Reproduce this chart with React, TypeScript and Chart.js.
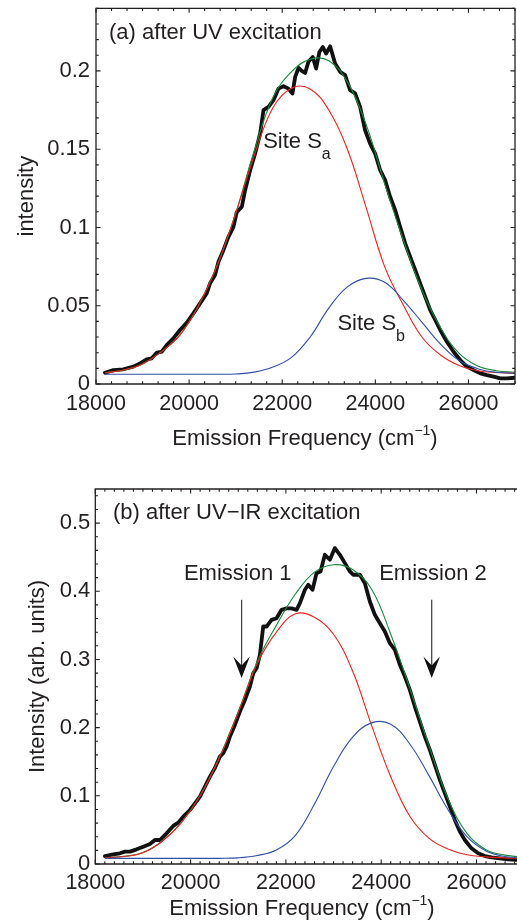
import React, { useEffect, useRef } from "react";
import { Chart, registerables } from "chart.js";

Chart.register(...registerables);

const FONT = '"Liberation Sans", Arial, Helvetica, sans-serif';
const INK = "#231f20";
const DATA_COLOR = "#111111";
const RED = "#e8231e";
const BLUE = "#2f4fa6";
const GREEN = "#178a3c";

// ---------------- Panel (a): after UV excitation ----------------
const aDataFreq = [
  18193, 18372, 18587, 18802, 18946, 19089, 19196, 19304, 19411, 19519,
  19662, 19805, 19948, 20092, 20235, 20378, 20450, 20557, 20630, 20737,
  20845, 20952, 21024, 21132, 21203, 21311, 21418, 21526, 21597, 21705,
  21812, 21920, 22027, 22135, 22220, 22278, 22350, 22420, 22491, 22563,
  22656, 22728, 22799, 22871, 22943, 23029, 23136, 23244, 23351, 23458,
  23566, 23673, 23781, 23888, 23996, 24103, 24211, 24318, 24426, 24533,
  24641, 24748, 24856, 24963, 25071, 25179, 25286, 25394, 25537, 25680,
  25824, 25967, 26110, 26254, 26397, 26540, 26683, 26827, 27000,
];
const aDataIntensity = [
  0.0072, 0.0089, 0.0094, 0.0111, 0.0132, 0.0157, 0.0164, 0.02, 0.0206, 0.0249,
  0.0291, 0.0345, 0.0391, 0.0451, 0.0515, 0.0579, 0.0643, 0.0696, 0.0781, 0.0855,
  0.094, 0.1004, 0.1098, 0.1132, 0.1238, 0.1366, 0.1472, 0.16, 0.1749, 0.177,
  0.1813, 0.1887, 0.1902, 0.1887, 0.1856, 0.1962, 0.202, 0.2, 0.1987, 0.2058,
  0.2089, 0.2015, 0.2121, 0.2153, 0.2111, 0.2157, 0.2047, 0.1994, 0.1973, 0.1877,
  0.1856, 0.177, 0.1621, 0.1536, 0.1472, 0.1366, 0.1302, 0.1196, 0.1111, 0.1004,
  0.0898, 0.0813, 0.0728, 0.0643, 0.0558, 0.0472, 0.0409, 0.0345, 0.027, 0.0206,
  0.0153, 0.0111, 0.0089, 0.0068, 0.0057, 0.0047, 0.0036, 0.0036, 0.004,
];
const aFitFreq = [
  18200, 18600, 19000, 19400, 19800, 20200, 20600, 21000, 21400, 21800, 22200, 22600,
  23000, 23400, 23800, 24200, 24600, 25000, 25400, 25800, 26200, 26600, 27000,
];
const aSiteA = [
  0.0072, 0.009, 0.0128, 0.0205, 0.0312, 0.05, 0.0755, 0.109, 0.146, 0.1765, 0.189, 0.1885,
  0.175, 0.15, 0.113, 0.075, 0.0505, 0.03, 0.0185, 0.0118, 0.0085, 0.0073, 0.0068,
];
const aSiteB = [
  0.0062, 0.0062, 0.0062, 0.0062, 0.0062, 0.0062, 0.0062, 0.0064, 0.0076, 0.0108, 0.017, 0.03,
  0.0485, 0.062, 0.0675, 0.065, 0.0535, 0.0395, 0.0255, 0.015, 0.0098, 0.0075, 0.0068,
];
const aFitTotal = [
  0.0072, 0.009, 0.0128, 0.0205, 0.0312, 0.05, 0.0755, 0.109, 0.149, 0.183, 0.1995, 0.2075,
  0.2065, 0.193, 0.166, 0.128, 0.092, 0.06, 0.036, 0.0195, 0.0115, 0.0085, 0.0075,
];
const aXTicks = [18000, 20000, 22000, 24000, 26000];
const aXTickLabels = ["18000", "20000", "22000", "24000", "26000"];
const aYTicks = [0, 0.05, 0.1, 0.15, 0.2];
const aYTickLabels = ["0", "0.05", "0.1", "0.15", "0.2"];

// ---------------- Panel (b): after UV-IR excitation ----------------
const bDataFreq = [
  18203, 18378, 18517, 18622, 18727, 18867, 19007, 19147, 19252, 19357,
  19497, 19636, 19741, 19846, 19986, 20091, 20196, 20301, 20406, 20510,
  20615, 20685, 20755, 20825, 20930, 21035, 21140, 21245, 21315, 21385,
  21455, 21524, 21594, 21699, 21804, 21909, 22014, 22119, 22224,
  22294, 22399, 22469, 22559, 22643, 22727, 22818, 22923, 23028, 23133,
  23238, 23343, 23413, 23552, 23657, 23762, 23867, 23972, 24077, 24182,
  24287, 24392, 24497, 24601, 24706, 24811, 24916, 25021, 25126, 25231,
  25336, 25441, 25545, 25650, 25755, 25895, 26035, 26175, 26315, 26490,
  26664, 26846,
];
const bDataIntensity = [
  0.0117, 0.0142, 0.0157, 0.0181, 0.0181, 0.0215, 0.0254, 0.0294, 0.0352, 0.0352,
  0.045, 0.0558, 0.0607, 0.0695, 0.0792, 0.089, 0.0988, 0.1135, 0.1282, 0.1409,
  0.1575, 0.1624, 0.1722, 0.1869, 0.204, 0.2236, 0.2407, 0.2603, 0.2798, 0.2872,
  0.3068, 0.3483, 0.3483, 0.3581, 0.3605, 0.3728, 0.3748, 0.3748, 0.3728,
  0.3826, 0.4022, 0.4095, 0.4022, 0.4266, 0.4291, 0.4535, 0.4462, 0.4633, 0.4535,
  0.4413, 0.4291, 0.4242, 0.4242, 0.4119, 0.385, 0.3655, 0.3532, 0.341, 0.3239,
  0.3141, 0.2921, 0.275, 0.2554, 0.2309, 0.2089, 0.1869, 0.1673, 0.1453, 0.1233,
  0.1037, 0.0841, 0.0646, 0.0475, 0.0352, 0.023, 0.0157, 0.0117, 0.0098, 0.0083,
  0.0068, 0.0059,
];
const bFitFreq = [
  18200, 18600, 19000, 19400, 19800, 20200, 20600, 21000, 21400, 21800, 22200, 22600,
  23000, 23400, 23800, 24200, 24600, 25000, 25400, 25800, 26200, 26600, 27000,
];
const bEmission1 = [
  0.0092, 0.011, 0.0165, 0.033, 0.06, 0.1, 0.155, 0.222, 0.294, 0.34, 0.367, 0.362,
  0.337, 0.283, 0.203, 0.128, 0.07, 0.038, 0.022, 0.0135, 0.0105, 0.009, 0.008,
];
const bEmission2 = [
  0.0083, 0.0083, 0.0083, 0.0083, 0.0083, 0.0083, 0.0083, 0.009, 0.0125, 0.0205, 0.042, 0.088,
  0.143, 0.186, 0.207, 0.205, 0.176, 0.13, 0.08, 0.04, 0.019, 0.011, 0.0085,
];
const bFitTotal = [
  0.0095, 0.0112, 0.0168, 0.0333, 0.0605, 0.1005, 0.156, 0.2235, 0.297, 0.35, 0.396, 0.428,
  0.439, 0.432, 0.403, 0.337, 0.258, 0.174, 0.096, 0.045, 0.021, 0.013, 0.01,
];
const bXTicks = [18000, 20000, 22000, 24000, 26000];
const bXTickLabels = ["18000", "20000", "22000", "24000", "26000"];
const bYTicks = [0, 0.1, 0.2, 0.3, 0.4, 0.5];
const bYTickLabels = ["0", "0.1", "0.2", "0.3", "0.4", "0.5"];

// ---------------- types & helpers ----------------
type Part = { text: string; size: number; dy: number };
type Label = { x: number; y: number; parts: Part[] };
type Arrow = { x: number; yTop: number; yTip: number };

interface PanelSpec {
  width: number;
  height: number;
  xMin: number;
  xMax: number;
  yMin: number;
  yMax: number;
  xTicks: number[];
  xTickLabels: string[];
  yTicks: number[];
  yTickLabels: string[];
  xMinorStep: number;
  yMinorStep: number;
  padTop: number;
  padRight: number;
  yAxisWidth: number;
  xAxisHeight: number;
  xTickPad: number;
  yTickPad: number;
  rightBorder: boolean;
  yTitle: string;
  yTitleX: number;
  xTitleCenter: number;
  xTitleBaseline: number;
  labels: Label[];
  arrows: Arrow[];
  dataX: number[];
  dataY: number[];
  fitX: number[];
  comp1: number[];
  comp2: number[];
  total: number[];
}

function drawParts(ctx: CanvasRenderingContext2D, parts: Part[], x: number, y: number, align: "left" | "center") {
  const widths = parts.map((p) => {
    ctx.font = `${p.size}px ${FONT}`;
    return ctx.measureText(p.text).width;
  });
  const total = widths.reduce((s, w) => s + w, 0);
  let cx = align === "center" ? x - total / 2 : x;
  ctx.textAlign = "left";
  ctx.textBaseline = "alphabetic";
  parts.forEach((p, i) => {
    ctx.font = `${p.size}px ${FONT}`;
    ctx.fillText(p.text, cx, y + p.dy);
    cx += widths[i];
  });
}

function framePlugin(p: PanelSpec) {
  return {
    id: "frameAndText",
    afterDatasetsDraw(chart: any) {
      const ctx: CanvasRenderingContext2D = chart.ctx;
      const a = chart.chartArea;
      const xs = chart.scales.x;
      const ys = chart.scales.y;
      const MAJ = 4.5;
      const MIN = 2.8;
      ctx.save();
      ctx.strokeStyle = INK;
      ctx.lineWidth = 1.1;
      // ticks
      ctx.beginPath();
      const isMajor = (v: number, list: number[], step: number) =>
        list.some((m) => Math.abs(m - v) < step * 0.01);
      const xTick = (v: number, len: number) => {
        const px = xs.getPixelForValue(v);
        if (px < a.left - 0.5 || px > a.right + 0.5) return;
        ctx.moveTo(px, a.bottom);
        ctx.lineTo(px, a.bottom - len);
        ctx.moveTo(px, a.top);
        ctx.lineTo(px, a.top + len);
      };
      const yTick = (v: number, len: number) => {
        const py = ys.getPixelForValue(v);
        if (py < a.top - 0.5 || py > a.bottom + 0.5) return;
        ctx.moveTo(a.left, py);
        ctx.lineTo(a.left + len, py);
        if (p.rightBorder) {
          ctx.moveTo(a.right, py);
          ctx.lineTo(a.right - len, py);
        }
      };
      p.xTicks.forEach((v) => xTick(v, MAJ));
      for (let k = 1; p.xTicks[0] + k * p.xMinorStep <= p.xMax + 1e-6; k++) {
        const v = p.xTicks[0] + k * p.xMinorStep;
        if (!isMajor(v, p.xTicks, p.xMinorStep)) xTick(v, MIN);
      }
      p.yTicks.forEach((v) => yTick(v, MAJ));
      for (let k = 1; p.yTicks[0] + k * p.yMinorStep <= p.yMax + 1e-9; k++) {
        const v = p.yTicks[0] + k * p.yMinorStep;
        if (!isMajor(v, p.yTicks, p.yMinorStep)) yTick(v, MIN);
      }
      ctx.stroke();
      // box
      ctx.lineWidth = 1.3;
      ctx.beginPath();
      const rx = p.rightBorder ? a.right : a.right + 5;
      ctx.moveTo(rx, a.top);
      ctx.lineTo(a.left, a.top);
      ctx.lineTo(a.left, a.bottom);
      ctx.lineTo(rx, a.bottom);
      if (p.rightBorder) {
        ctx.moveTo(a.right, a.top);
        ctx.lineTo(a.right, a.bottom);
      }
      ctx.stroke();
      ctx.restore();
    },
    afterDraw(chart: any) {
      const ctx: CanvasRenderingContext2D = chart.ctx;
      const xs = chart.scales.x;
      const ys = chart.scales.y;
      const a = chart.chartArea;
      ctx.save();
      ctx.fillStyle = INK;
      // y title
      ctx.save();
      ctx.translate(p.yTitleX, (a.top + a.bottom) / 2);
      ctx.rotate(-Math.PI / 2);
      ctx.font = `22px ${FONT}`;
      ctx.textAlign = "center";
      ctx.textBaseline = "alphabetic";
      ctx.fillText(p.yTitle, 0, 0);
      ctx.restore();
      // x title
      drawParts(
        ctx,
        [
          { text: "Emission Frequency (cm", size: 22, dy: 0 },
          { text: "\u22121", size: 14, dy: -10 },
          { text: ")", size: 22, dy: 0 },
        ],
        p.xTitleCenter,
        p.xTitleBaseline,
        "center"
      );
      // in-plot labels
      p.labels.forEach((l) => {
        drawParts(ctx, l.parts, xs.getPixelForValue(l.x), ys.getPixelForValue(l.y), "left");
      });
      // arrows
      p.arrows.forEach((ar) => {
        const x = xs.getPixelForValue(ar.x);
        const y0 = ys.getPixelForValue(ar.yTop);
        const y1 = ys.getPixelForValue(ar.yTip);
        ctx.strokeStyle = "#3a3a3a";
        ctx.lineWidth = 1.2;
        ctx.beginPath();
        ctx.moveTo(x, y0);
        ctx.lineTo(x, y1 - 12);
        ctx.stroke();
        ctx.fillStyle = "#111";
        ctx.beginPath();
        ctx.moveTo(x, y1);
        ctx.lineTo(x - 8.3, y1 - 21.5);
        ctx.lineTo(x, y1 - 12.5);
        ctx.lineTo(x + 8.3, y1 - 21.5);
        ctx.closePath();
        ctx.fill();
      });
      ctx.restore();
    },
  };
}

function buildConfig(p: PanelSpec): any {
  const pts = (xs: number[], ys: number[]) => xs.map((x, i) => ({ x, y: ys[i] }));
  const fitStyle = { borderWidth: 1.1, pointRadius: 0, tension: 0.4, fill: false, clip: 0 };
  return {
    type: "line",
    data: {
      datasets: [
        { label: "component 2", data: pts(p.fitX, p.comp2), borderColor: BLUE, ...fitStyle },
        { label: "component 1", data: pts(p.fitX, p.comp1), borderColor: RED, ...fitStyle },
        { label: "fit", data: pts(p.fitX, p.total), borderColor: GREEN, ...fitStyle },
        {
          label: "data",
          data: pts(p.dataX, p.dataY),
          borderColor: DATA_COLOR,
          borderWidth: 3.8,
          pointRadius: 0,
          tension: 0,
          fill: false,
          clip: 0,
          borderJoinStyle: "round",
          borderCapStyle: "round",
        },
      ],
    },
    options: {
      animation: false,
      responsive: false,
      maintainAspectRatio: false,
      devicePixelRatio: 1,
      events: [],
      layout: { padding: { top: p.padTop, right: p.padRight, left: 0, bottom: 0 } },
      plugins: { legend: { display: false }, tooltip: { enabled: false }, title: { display: false } },
      scales: {
        x: {
          type: "linear",
          min: p.xMin,
          max: p.xMax,
          grid: { display: false, drawTicks: false },
          border: { display: false },
          ticks: {
            font: { family: FONT, size: 21.5 },
            color: INK,
            padding: p.xTickPad,
            maxRotation: 0,
            autoSkip: false,
            callback: (v: number) => {
              const i = p.xTicks.indexOf(Number(v));
              return i >= 0 ? p.xTickLabels[i] : "";
            },
          },
          afterBuildTicks: (s: any) => {
            s.ticks = p.xTicks.map((v) => ({ value: v }));
          },
          afterFit: (s: any) => {
            s.height = p.xAxisHeight;
            s.paddingLeft = 0;
            s.paddingRight = 0;
          },
        },
        y: {
          type: "linear",
          min: p.yMin,
          max: p.yMax,
          grid: { display: false, drawTicks: false },
          border: { display: false },
          ticks: {
            font: { family: FONT, size: 22 },
            color: INK,
            padding: p.yTickPad,
            autoSkip: false,
            callback: (v: number) => {
              const i = p.yTicks.findIndex((t) => Math.abs(t - Number(v)) < 1e-9);
              return i >= 0 ? p.yTickLabels[i] : "";
            },
          },
          afterBuildTicks: (s: any) => {
            s.ticks = p.yTicks.map((v) => ({ value: v }));
          },
          afterFit: (s: any) => {
            s.width = p.yAxisWidth;
            s.paddingTop = 0;
            s.paddingBottom = 0;
          },
        },
      },
    },
    plugins: [framePlugin(p)],
  };
}

const panelA: PanelSpec = {
  width: 517,
  height: 460,
  xMin: 18000,
  xMax: 27000,
  yMin: 0,
  yMax: 0.24,
  xTicks: aXTicks,
  xTickLabels: aXTickLabels,
  yTicks: aYTicks,
  yTickLabels: aYTickLabels,
  xMinorStep: 2000 / 6,
  yMinorStep: 0.01,
  padTop: 8.3,
  padRight: 2,
  yAxisWidth: 96,
  xAxisHeight: 76,
  xTickPad: 7,
  yTickPad: 6,
  rightBorder: true,
  yTitle: "intensity",
  yTitleX: 32.5,
  xTitleCenter: 305,
  xTitleBaseline: 445,
  labels: [
    { x: 18280, y: 0.2202, parts: [{ text: "(a) after UV excitation", size: 22, dy: 0 }] },
    {
      x: 21590,
      y: 0.1508,
      parts: [
        { text: "Site S", size: 22, dy: 0 },
        { text: "a", size: 16, dy: 11 },
      ],
    },
    {
      x: 23185,
      y: 0.0345,
      parts: [
        { text: "Site S", size: 22, dy: 0 },
        { text: "b", size: 16, dy: 11 },
      ],
    },
  ],
  arrows: [],
  dataX: aDataFreq,
  dataY: aDataIntensity,
  fitX: aFitFreq,
  comp1: aSiteA,
  comp2: aSiteB,
  total: aFitTotal,
};

const panelB: PanelSpec = {
  width: 517,
  height: 461,
  xMin: 18000,
  xMax: 26850,
  yMin: 0,
  yMax: 0.55,
  xTicks: bXTicks,
  xTickLabels: bXTickLabels,
  yTicks: bYTicks,
  yTickLabels: bYTickLabels,
  xMinorStep: 200,
  yMinorStep: 0.02,
  padTop: 29,
  padRight: 0,
  yAxisWidth: 95.3,
  xAxisHeight: 57,
  xTickPad: 6,
  yTickPad: 5,
  rightBorder: false,
  yTitle: "Intensity (arb. units)",
  yTitleX: 43.5,
  xTitleCenter: 302,
  xTitleBaseline: 455,
  labels: [
    { x: 18370, y: 0.5057, parts: [{ text: "(b) after UV\u2212IR excitation", size: 22, dy: 0 }] },
    { x: 19860, y: 0.4169, parts: [{ text: "Emission 1", size: 22, dy: 0 }] },
    { x: 23957, y: 0.4169, parts: [{ text: "Emission 2", size: 22, dy: 0 }] },
  ],
  arrows: [
    { x: 21070, yTop: 0.3875, yTip: 0.2729 },
    { x: 25060, yTop: 0.3875, yTip: 0.2729 },
  ],
  dataX: bDataFreq,
  dataY: bDataIntensity,
  fitX: bFitFreq,
  comp1: bEmission1,
  comp2: bEmission2,
  total: bFitTotal,
};

function Panel({ spec, top }: { spec: PanelSpec; top: number }) {
  const ref = useRef<HTMLCanvasElement>(null);
  useEffect(() => {
    if (!ref.current) return;
    const chart = new Chart(ref.current, buildConfig(spec));
    return () => chart.destroy();
  }, [spec]);
  return (
    <div style={{ position: "absolute", left: 0, top, width: spec.width, height: spec.height }}>
      <canvas
        ref={ref}
        width={spec.width}
        height={spec.height}
        style={{ display: "block", width: spec.width, height: spec.height }}
      />
    </div>
  );
}

export default function App() {
  return (
    <div
      style={{
        position: "absolute",
        left: 0,
        top: 0,
        width: 517,
        height: 921,
        background: "#ffffff",
        overflow: "hidden",
      }}
    >
      <Panel spec={panelA} top={0} />
      <Panel spec={panelB} top={460} />
    </div>
  );
}
